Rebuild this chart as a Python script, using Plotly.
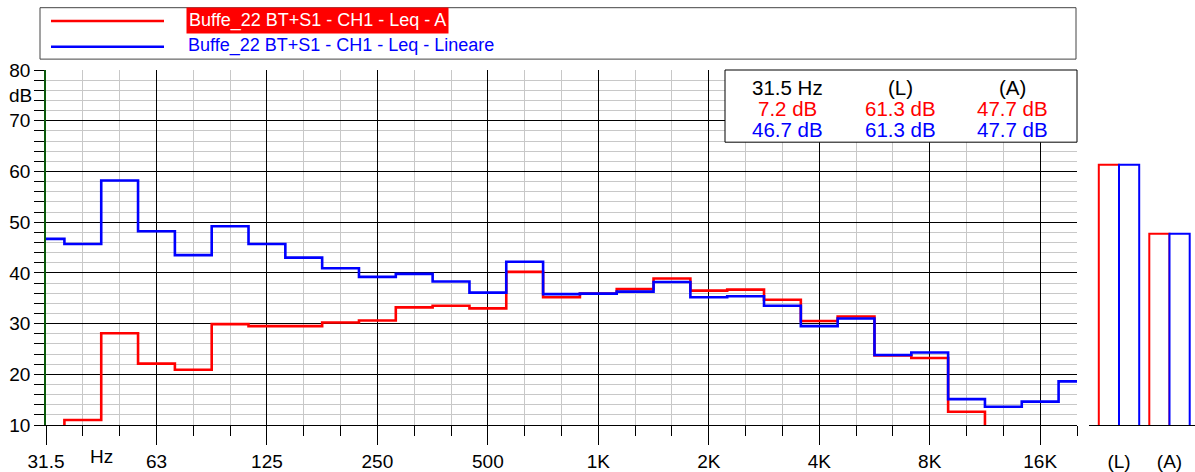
import plotly.graph_objects as go

# ---- data ----
bands = ["31.5", "40", "50", "63", "80", "100", "125", "160", "200", "250", "315", "400",
         "500", "630", "800", "1K", "1.25K", "1.6K", "2K", "2.5K", "3.15K", "4K", "5K",
         "6.3K", "8K", "10K", "12.5K", "16K", "20K"]
leq_a = [7.2, 11.0, 28.1, 22.1, 20.9, 29.9, 29.5, 29.5, 30.2, 30.6, 33.2, 33.5,
         33.0, 40.2, 35.2, 35.9, 36.8, 38.9, 36.5, 36.7, 34.7, 30.5, 31.4,
         23.7, 23.2, 12.6, 9.3, 8.0, 9.3]
leq_lin = [46.7, 45.7, 58.2, 48.2, 43.5, 49.2, 45.7, 43.0, 40.9, 39.2, 39.8, 38.3,
           36.1, 42.2, 35.8, 35.9, 36.3, 38.2, 35.2, 35.4, 33.5, 29.5, 31.0,
           23.8, 24.3, 15.1, 13.6, 14.6, 18.6]
tick_labels = ["31.5", "63", "125", "250", "500", "1K", "2K", "4K", "8K", "16K"]
tick_bands = ["31.5", "63", "125", "250", "500", "1K", "2K", "4K", "8K", "16K"]
overall_labels = ["(L)", "(A)"]
overall_a = [61.3, 47.7]
overall_lin = [61.3, 47.7]
name_a = "Buffe_22 BT+S1 - CH1 - Leq - A"
name_lin = "Buffe_22 BT+S1 - CH1 - Leq - Lineare"

RED = "#ff0000"
BLUE = "#0000ff"
FONT = "Liberation Sans, Arial, sans-serif"

W, H = 1195, 472
ML, MR, MT, MB = 46, 0, 70, 43
PW, PH = W - ML - MR, H - MT - MB


def xp(px):
    return (px - ML) / PW


def yp(py):
    return (H - MB - py) / PH


idx = list(range(len(bands)))
tick_idx = [bands.index(b) for b in tick_bands]

fig = go.Figure()
fig.add_trace(go.Scatter(x=idx, y=leq_a, mode="lines", line=dict(color=RED, width=2.6, shape="hvh"),
                         name=name_a, xaxis="x", yaxis="y"))
fig.add_trace(go.Scatter(x=idx, y=leq_lin, mode="lines", line=dict(color=BLUE, width=2.6, shape="hvh"),
                         name=name_lin, xaxis="x", yaxis="y"))
fig.add_trace(go.Bar(x=overall_labels, y=overall_a, xaxis="x2", yaxis="y2",
                     marker=dict(color="white", line=dict(color=RED, width=2))))
fig.add_trace(go.Bar(x=overall_labels, y=overall_lin, xaxis="x2", yaxis="y2",
                     marker=dict(color="white", line=dict(color=BLUE, width=2))))

x_end = xp(1077)
fig.update_layout(
    width=W, height=H,
    margin=dict(l=ML, r=MR, t=MT, b=MB, pad=0),
    paper_bgcolor="white", plot_bgcolor="white",
    showlegend=False,
    barmode="group", bargap=0.2, bargroupgap=0,
    font=dict(family=FONT, size=19, color="black"),
    xaxis=dict(
        domain=[0, x_end], range=[0, len(bands) - 1], anchor="y",
        tickmode="array", tickvals=tick_idx, ticktext=tick_labels,
        ticks="outside", ticklen=19, tickcolor="black", tickwidth=1,
        showgrid=True, gridcolor="black", gridwidth=1, zeroline=False,
        showline=True, linecolor="black", linewidth=1,
        tickfont=dict(family=FONT, size=19, color="black"),
        minor=dict(tickmode="array", tickvals=idx, ticks="outside", ticklen=10,
                   tickcolor="black", tickwidth=1, showgrid=True,
                   gridcolor="#c8c8c8", gridwidth=1),
    ),
    yaxis=dict(
        domain=[0, 1], range=[10, 80], anchor="x",
        tickmode="linear", tick0=0, dtick=10,
        ticks="outside", ticklen=10, tickcolor="black", tickwidth=1,
        showgrid=True, gridcolor="black", gridwidth=1, zeroline=False,
        showline=True, linecolor="#0b5a0b", linewidth=1.5,
        tickfont=dict(family=FONT, size=19, color="black"),
        minor=dict(tickmode="linear", tick0=0, dtick=2, ticks="outside", ticklen=10,
                   tickcolor="black", tickwidth=1, showgrid=True,
                   gridcolor="#c8c8c8", gridwidth=1),
    ),
    xaxis2=dict(
        domain=[xp(1089), 1], type="category", range=[-0.594, 1.505], anchor="y2",
        ticks="outside", ticklen=19, tickcolor="rgba(0,0,0,0)",
        showgrid=False, zeroline=False, showline=True, linecolor="black", linewidth=1,
        tickfont=dict(family=FONT, size=19, color="black"),
    ),
    yaxis2=dict(
        domain=[0, 1], range=[10, 80], anchor="x2", visible=False,
        showgrid=False, zeroline=False,
    ),
)

shapes = []
annotations = []

# legend box
shapes.append(dict(type="rect", xref="paper", yref="paper", x0=xp(40), x1=xp(1076),
                   y0=yp(59), y1=yp(7), line=dict(color="#444444", width=1),
                   fillcolor="white", layer="above"))
shapes.append(dict(type="line", xref="paper", yref="paper", x0=xp(51), x1=xp(164),
                   y0=yp(20.5), y1=yp(20.5), line=dict(color=RED, width=2.5)))
shapes.append(dict(type="line", xref="paper", yref="paper", x0=xp(51), x1=xp(164),
                   y0=yp(46.5), y1=yp(46.5), line=dict(color=BLUE, width=2.5)))
annotations.append(dict(xref="paper", yref="paper", x=xp(186), y=yp(19.5), xanchor="left",
                        yanchor="middle", text=name_a, showarrow=False, bgcolor=RED,
                        borderpad=2, font=dict(family=FONT, size=18, color="white")))
annotations.append(dict(xref="paper", yref="paper", x=xp(186), y=yp(45.5), xanchor="left",
                        yanchor="middle", text=name_lin, showarrow=False,
                        font=dict(family=FONT, size=18, color=BLUE)))

# data table box
shapes.append(dict(type="rect", xref="paper", yref="paper", x0=xp(725), x1=xp(1077),
                   y0=yp(143), y1=yp(70), line=dict(color="black", width=1),
                   fillcolor="white", layer="above"))
col_x = [787, 900, 1012]
row_y = [88, 109, 130]
header = [bands[0] + " Hz"] + overall_labels
row_a = [leq_a[0]] + overall_a
row_l = [leq_lin[0]] + overall_lin
for i in range(3):
    annotations.append(dict(xref="paper", yref="paper", x=xp(col_x[i]), y=yp(row_y[0]),
                            xanchor="center", yanchor="middle", text=header[i], showarrow=False,
                            font=dict(family=FONT, size=20.5, color="black")))
    annotations.append(dict(xref="paper", yref="paper", x=xp(col_x[i]), y=yp(row_y[1]),
                            xanchor="center", yanchor="middle", text=f"{row_a[i]:.1f} dB",
                            showarrow=False, font=dict(family=FONT, size=20.5, color=RED)))
    annotations.append(dict(xref="paper", yref="paper", x=xp(col_x[i]), y=yp(row_y[2]),
                            xanchor="center", yanchor="middle", text=f"{row_l[i]:.1f} dB",
                            showarrow=False, font=dict(family=FONT, size=20.5, color=BLUE)))

# axis unit labels
annotations.append(dict(xref="x", yref="paper", x=1.5, y=yp(461), xanchor="center",
                        yanchor="middle", text="Hz", showarrow=False,
                        font=dict(family=FONT, size=19, color="black")))
annotations.append(dict(xref="paper", yref="y", x=xp(34), y=75, xanchor="right",
                        yanchor="middle", text="dB", showarrow=False,
                        font=dict(family=FONT, size=19, color="black")))

fig.update_layout(shapes=shapes, annotations=annotations)
fig.write_html("out.html", config={"displayModeBar": False},
               post_script="document.body.style.margin='0';")
